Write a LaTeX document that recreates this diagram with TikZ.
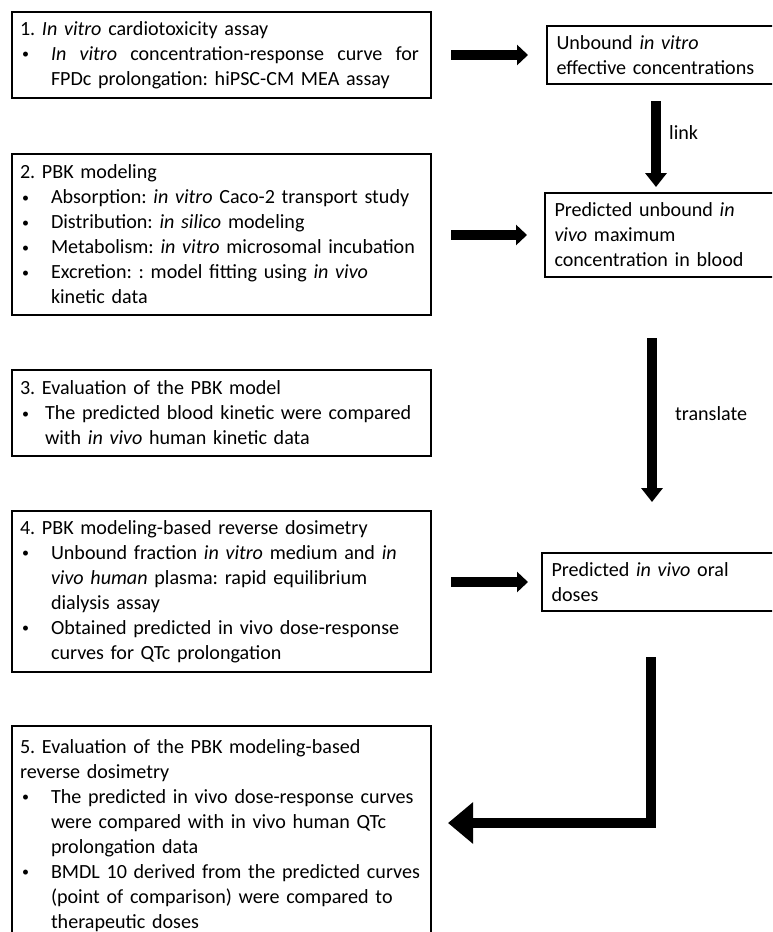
\documentclass[tikz,border=0pt]{standalone}
\usepackage{fontspec}
\setmainfont{Carlito}
\usetikzlibrary{arrows.meta,calc}
\frenchspacing
\newcommand{\bt}{\raisebox{1.6pt}{\fontsize{14}{14}\selectfont\textbullet}}
\newcommand{\bl}[1]{\makebox[31pt][l]{\hspace{2pt}\bt}\mbox{#1}\\}
\newcommand{\cl}[1]{\hspace*{31pt}\mbox{#1}\\}
\newcommand{\blb}[1]{\makebox[25pt][l]{\hspace{2pt}\bt}\mbox{#1}\\}
\newcommand{\clb}[1]{\hspace*{25pt}\mbox{#1}\\}
\newcommand{\tl}[1]{\mbox{#1}\\}
\begin{document}
\begin{tikzpicture}[x=1pt,y=-1pt,
  boxbase/.style={draw, line width=1.1pt, anchor=north west, outer sep=0pt,
    inner ysep=0pt, align=left, font=\fontsize{20.1}{25}\selectfont\frenchspacing},
  leftbox/.style={boxbase, inner xsep=8pt, text width=403pt},
  rightbox/.style={boxbase, inner xsep=9.5pt, text width=230pt},
  harrow/.style={line width=10pt, -{Triangle[length=11pt,width=20pt]}},
  varrow/.style={line width=9.5pt, -{Triangle[length=14pt,width=21pt]}},
  barrow/.style={line width=10pt, line join=miter, -{Triangle[length=25pt,width=40pt]}},
  lbl/.style={anchor=west, inner sep=0pt, font=\fontsize{20.1}{25}\selectfont}
]
\clip (0,0) rectangle (772,932);
\fill[white] (0,0) rectangle (772,932);

% left boxes
\node[leftbox, minimum height=86pt] (b1) at (12,12) {%
\tl{1. \textit{In vitro} cardiotoxicity assay}
\makebox[31pt][l]{\hspace{2pt}\bt}\hbox to 368pt{\textit{In}\hfill\textit{vitro}\hfill concentration-response\hfill curve\hfill for}\\
\cl{FPDc prolongation: hiPSC-CM MEA assay}};

\node[leftbox, minimum height=161pt] (b2) at (12,154) {%
\tl{2. PBK modeling}
\bl{Absorption: \textit{in vitro} Caco-2 transport study}
\bl{Distribution: \textit{in silico} modeling}
\bl{Metabolism: \textit{in vitro} microsomal incubation}
\bl{Excretion: : model fitting using \textit{in vivo}}
\cl{kinetic data}};

\node[leftbox, minimum height=86pt] (b3) at (12,370) {%
\tl{3. Evaluation of the PBK model}
\blb{The predicted blood kinetic were compared}
\clb{with \textit{in vivo} human kinetic data}};

\node[leftbox, minimum height=161pt] (b4) at (12,511) {%
\tl{4. PBK modeling-based reverse dosimetry}
\bl{Unbound fraction \textit{in vitro} medium and \textit{in}}
\cl{\textit{vivo human} plasma: rapid equilibrium}
\cl{dialysis assay}
\bl{Obtained predicted in vivo dose-response}
\cl{curves for QTc prolongation}};

\node[leftbox, minimum height=219pt] (b5) at (12,726) {%
\tl{5. Evaluation of the PBK modeling-based}
\tl{reverse dosimetry}
\bl{The predicted in vivo dose-response curves}
\cl{were compared with in vivo human QTc}
\cl{prolongation data}
\bl{BMDL 10 derived from the predicted curves}
\cl{(point of comparison) were compared to}
\cl{therapeutic doses}};

% right boxes
\node[rightbox, minimum height=58pt] (r1) at (547,26) {%
\tl{Unbound \textit{in vitro}}
\tl{effective concentrations}};

\node[rightbox, minimum height=84pt] (r2) at (545,193) {%
\tl{Predicted unbound \textit{in}}
\tl{\textit{vivo} maximum}
\tl{concentration in blood}};

\node[rightbox, minimum height=58pt] (r3) at (542,553) {%
\tl{Predicted \textit{in vivo} oral}
\tl{doses}};

% horizontal arrows
\draw[harrow, shorten <=20pt, shorten >=19pt] (b1.east) -- (b1.east -| r1.west);
\draw[harrow, shorten <=20pt, shorten >=18pt] (b2.east |- r2.west) -- (r2.west);
\draw[harrow, shorten <=20pt, shorten >=14pt] (b4.east |- r3.west) -- (r3.west);

% vertical arrows
\coordinate (lk) at (656,0);
\draw[varrow, shorten <=17pt, shorten >=6pt] (lk |- r1.south) -- (lk |- r2.north);
\node[lbl] (lklbl) at (669,133) {link};

\coordinate (tr) at (652,0);
\draw[varrow, shorten <=61pt, shorten >=51pt] (tr |- r2.south) -- (tr |- r3.north);
\node[lbl] (trlbl) at (675,414) {translate};

% elbow arrow
\coordinate (el) at (651,657);
\coordinate (ey) at (0,823);
\draw[barrow, shorten >=17pt] (el) |- (b5.east |- ey);
\end{tikzpicture}
\end{document}
